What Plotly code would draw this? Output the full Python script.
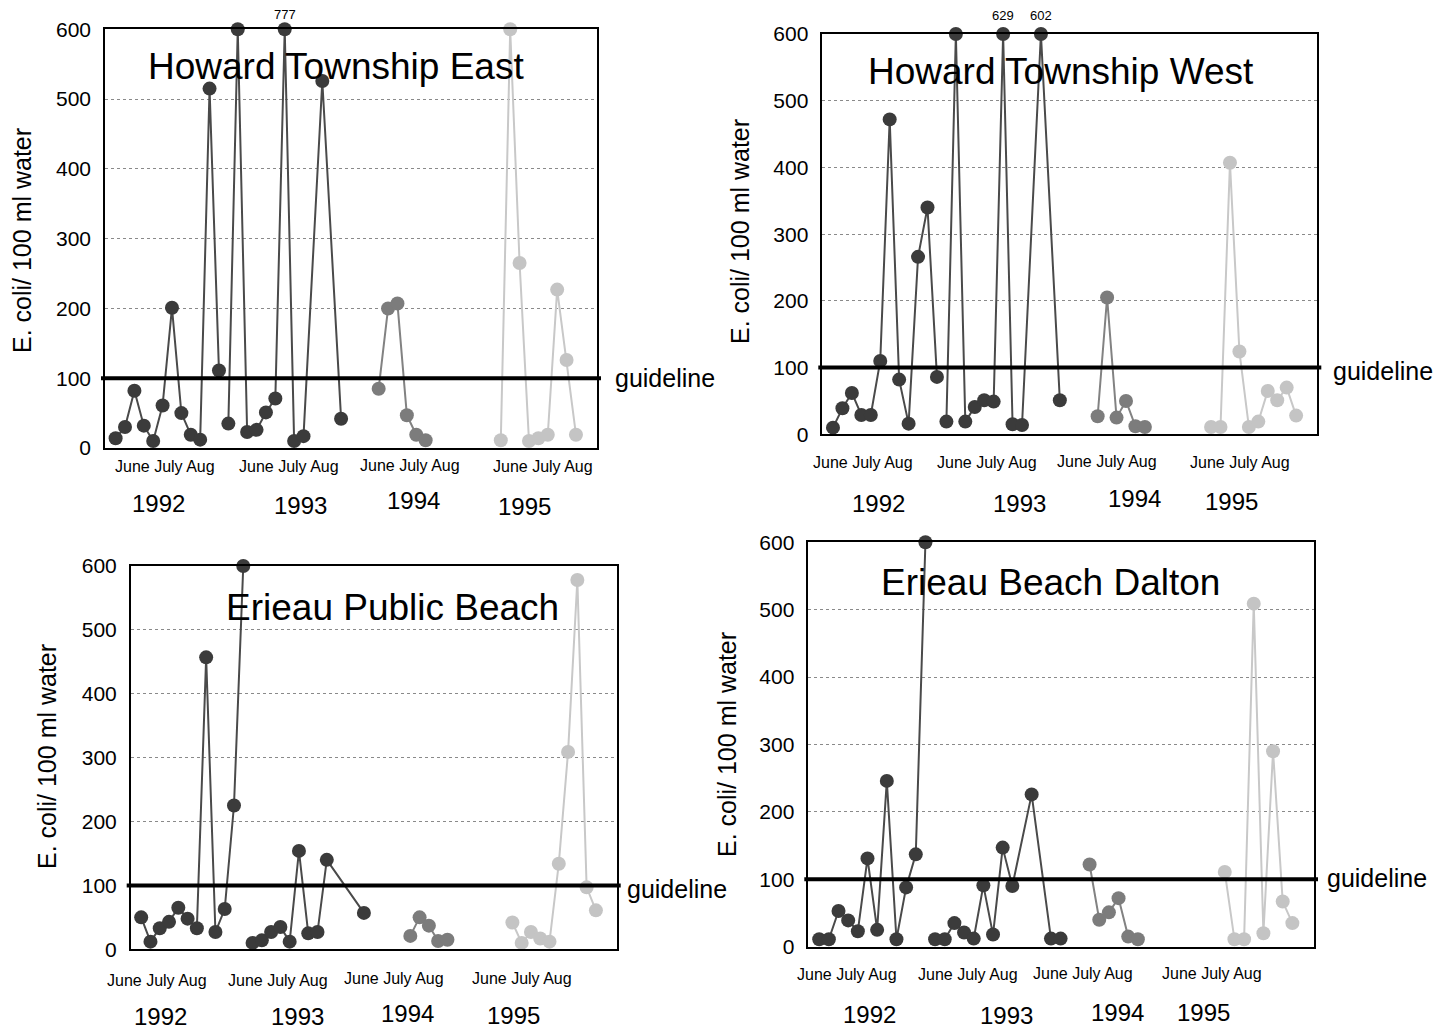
import plotly.graph_objects as go

FIG_W, FIG_H = 1436, 1031
FONT = "Liberation Sans, Arial, Helvetica, sans-serif"

Y_MAX = 600          # values above this are drawn at the top edge and labelled
GUIDELINE = 100      # E. coli guideline (per 100 ml)
Y_TICKS = [0, 100, 200, 300, 400, 500, 600]
X_RANGE = [-1.13, 51.24]   # sampling-slot axis

years = ["1992", "1993", "1994", "1995"]
months_label = "June July Aug"
y_title = "E. coli/ 100 ml water"
guide_label = "guideline"
site_names = ["Howard Township East", "Howard Township West",
              "Erieau Public Beach", "Erieau Beach Dalton"]

# ---- Howard Township East: sampling slot / E. coli count per season ----
hte_slots_1992 = [0, 1, 2, 3, 4, 5, 6, 7, 8, 9, 10, 11]
hte_vals_1992 = [14, 30, 82, 32, 10, 61, 201, 50, 19, 12, 515, 111]
hte_slots_1993 = [12, 13, 14, 15, 16, 17, 18, 19, 20, 22, 24]
hte_vals_1993 = [35, 600, 23, 26, 51, 71, 777, 10, 17, 526, 42]
hte_slots_1994 = [28, 29, 30, 31, 32, 33]
hte_vals_1994 = [85, 200, 207, 47, 19, 11]
hte_slots_1995 = [41, 42, 43, 44, 45, 46, 47, 48, 49]
hte_vals_1995 = [11, 600, 265, 10, 14, 19, 227, 126, 19]

# ---- Howard Township West ----
htw_slots_1992 = [0, 1, 2, 3, 4, 5, 6, 7, 8, 9, 10, 11]
htw_vals_1992 = [10, 39, 62, 29, 29, 110, 472, 82, 16, 266, 340, 86]
htw_slots_1993 = [12, 13, 14, 15, 16, 17, 18, 19, 20, 22, 24]
htw_vals_1993 = [19, 600, 19, 41, 51, 49, 629, 15, 14, 602, 51]
htw_slots_1994 = [28, 29, 30, 31, 32, 33]
htw_vals_1994 = [27, 205, 25, 50, 12, 11]
htw_slots_1995 = [40, 41, 42, 43, 44, 45, 46, 47, 48, 49]
htw_vals_1995 = [11, 11, 407, 124, 11, 19, 65, 51, 70, 28]

# ---- Erieau Public Beach ----
epb_slots_1992 = [0, 1, 2, 3, 4, 5, 6, 7, 8, 9, 10, 11]
epb_vals_1992 = [50, 12, 33, 43, 65, 48, 33, 457, 27, 63, 225, 600]
epb_slots_1993 = [12, 13, 14, 15, 16, 17, 18, 19, 20, 24]
epb_vals_1993 = [10, 14, 27, 35, 12, 154, 25, 27, 140, 57]
epb_slots_1994 = [29, 30, 31, 32, 33]
epb_vals_1994 = [21, 50, 37, 13, 15]
epb_slots_1995 = [40, 41, 42, 43, 44, 45, 46, 47, 48, 49]
epb_vals_1995 = [42, 10, 27, 17, 12, 134, 309, 578, 97, 61]

# ---- Erieau Beach Dalton ----
ebd_slots_1992 = [0, 1, 2, 3, 4, 5, 6, 7, 8, 9, 10, 11]
ebd_vals_1992 = [11, 11, 53, 39, 23, 131, 25, 246, 11, 88, 137, 600]
ebd_slots_1993 = [12, 13, 14, 15, 16, 17, 18, 19, 20, 22, 24, 25]
ebd_vals_1993 = [11, 11, 35, 21, 12, 91, 18, 147, 90, 226, 12, 12]
ebd_slots_1994 = [28, 29, 30, 31, 32, 33]
ebd_vals_1994 = [122, 40, 51, 72, 15, 11]
ebd_slots_1995 = [42, 43, 44, 45, 46, 47, 48, 49]
ebd_vals_1995 = [111, 11, 11, 509, 20, 290, 67, 35]

site_series = [
    [(hte_slots_1992, hte_vals_1992), (hte_slots_1993, hte_vals_1993),
     (hte_slots_1994, hte_vals_1994), (hte_slots_1995, hte_vals_1995)],
    [(htw_slots_1992, htw_vals_1992), (htw_slots_1993, htw_vals_1993),
     (htw_slots_1994, htw_vals_1994), (htw_slots_1995, htw_vals_1995)],
    [(epb_slots_1992, epb_vals_1992), (epb_slots_1993, epb_vals_1993),
     (epb_slots_1994, epb_vals_1994), (epb_slots_1995, epb_vals_1995)],
    [(ebd_slots_1992, ebd_vals_1992), (ebd_slots_1993, ebd_vals_1993),
     (ebd_slots_1994, ebd_vals_1994), (ebd_slots_1995, ebd_vals_1995)],
]

# marker / line colour per season
season_style = {
    "1992": dict(marker="#3b3b3b", line="#4a4a4a"),
    "1993": dict(marker="#3b3b3b", line="#4a4a4a"),
    "1994": dict(marker="#7c7c7c", line="#828282"),
    "1995": dict(marker="#c4c4c4", line="#c8c8c8"),
}

# page placement of each panel (pixels: left, top, right, bottom) and its texts
panels = [
    dict(box=(105, 29.3, 597, 448), title=(336, 67), guide=(613, 378), ytitle=(22, 241),
         over_shift=5,
         months=[(165, 466), (289, 466), (410, 465), (543, 466)],
         years=[(158, 503), (300, 505), (414, 500), (524, 506)]),
    dict(box=(822.3, 34, 1317.3, 434.3), title=(1061, 72), guide=(1331, 371), ytitle=(740, 232),
         over_shift=9,
         months=[(863, 463), (987, 463), (1107, 461), (1240, 463)],
         years=[(878, 503), (1019, 503), (1134, 498), (1231, 502)]),
    dict(box=(130.7, 566, 616.7, 949.3), title=(393, 607), guide=(625, 889), ytitle=(47, 757),
         over_shift=9,
         months=[(157, 980), (278, 980), (394, 978), (522, 978)],
         years=[(160, 1016), (297, 1016), (407, 1013), (513, 1015)]),
    dict(box=(808.3, 542.3, 1314, 946.7), title=(1050, 582), guide=(1325, 878), ytitle=(727, 745),
         over_shift=9,
         months=[(847, 974), (968, 974), (1083, 973), (1212, 973)],
         years=[(870, 1014), (1006, 1015), (1117, 1012), (1203, 1012)]),
]


def px(x, y):
    return x / FIG_W, 1 - y / FIG_H


fig = go.Figure()
annotations = []
shapes = []
layout_axes = {}

for i, (name, series, pl) in enumerate(zip(site_names, site_series, panels), start=1):
    sfx = "" if i == 1 else str(i)
    xa, ya = "x" + sfx, "y" + sfx
    left, top, right, bottom = pl["box"]

    layout_axes["xaxis" + sfx] = dict(
        domain=[left / FIG_W, right / FIG_W], range=X_RANGE, anchor=ya, automargin=False,
        showticklabels=False, ticks="", showgrid=False, zeroline=False,
        showline=True, mirror=True, linecolor="black", linewidth=1.5,
    )
    layout_axes["yaxis" + sfx] = dict(
        domain=[1 - bottom / FIG_H, 1 - top / FIG_H], range=[0, Y_MAX], anchor=xa,
        automargin=False, tickvals=Y_TICKS, ticks="", ticklabelstandoff=8,
        tickfont=dict(family=FONT, size=21, color="black"),
        showgrid=True, gridcolor="#8a8a8a", griddash="dot", gridwidth=1,
        zeroline=False, showline=True, mirror=True, linecolor="black", linewidth=1.5,
    )

    for yr, (slots, vals) in zip(years, series):
        st = season_style[yr]
        shown = [min(v, Y_MAX) for v in vals]
        fig.add_trace(go.Scatter(
            x=slots, y=shown, xaxis=xa, yaxis=ya, mode="lines+markers",
            line=dict(color=st["line"], width=2),
            marker=dict(color=st["marker"], size=14, line=dict(width=0)),
            cliponaxis=False, showlegend=False, name=f"{name} {yr}",
        ))
        # off-scale counts are pinned to the top and labelled with the true value
        for s, v in zip(slots, vals):
            if v > Y_MAX:
                annotations.append(dict(
                    x=s, y=Y_MAX, xref=xa, yref=ya, text=str(v), showarrow=False,
                    yanchor="bottom", yshift=pl["over_shift"],
                    font=dict(family=FONT, size=13, color="black"),
                ))

    # guideline across the panel, running slightly past the frame
    gy0 = 1 - bottom / FIG_H
    gy1 = 1 - top / FIG_H
    g_paper = gy0 + (gy1 - gy0) * GUIDELINE / Y_MAX
    shapes.append(dict(
        type="line", xref="paper", yref="paper",
        x0=(left - 4) / FIG_W, x1=(right + 4) / FIG_W, y0=g_paper, y1=g_paper,
        line=dict(color="black", width=4), layer="above",
    ))

    tx, ty = px(*pl["title"])
    annotations.append(dict(x=tx, y=ty, xref="paper", yref="paper", text=name,
                            showarrow=False, xanchor="center", yanchor="middle",
                            font=dict(family=FONT, size=37, color="black")))
    gx, gyy = px(*pl["guide"])
    annotations.append(dict(x=gx, y=gyy, xref="paper", yref="paper", text=guide_label,
                            showarrow=False, xanchor="left", yanchor="middle",
                            font=dict(family=FONT, size=25, color="black")))
    yx, yy = px(*pl["ytitle"])
    annotations.append(dict(x=yx, y=yy, xref="paper", yref="paper", text=y_title,
                            showarrow=False, xanchor="center", yanchor="middle", textangle=-90,
                            font=dict(family=FONT, size=25, color="black")))
    for yr, mpos, ypos in zip(years, pl["months"], pl["years"]):
        mx, my = px(*mpos)
        annotations.append(dict(x=mx, y=my, xref="paper", yref="paper", text=months_label,
                                showarrow=False, xanchor="center", yanchor="middle",
                                font=dict(family=FONT, size=16, color="black")))
        qx, qy = px(*ypos)
        annotations.append(dict(x=qx, y=qy, xref="paper", yref="paper", text=yr,
                                showarrow=False, xanchor="center", yanchor="middle",
                                font=dict(family=FONT, size=24, color="black")))

fig.update_layout(
    width=FIG_W, height=FIG_H, margin=dict(l=0, r=0, t=0, b=0, autoexpand=False),
    paper_bgcolor="white", plot_bgcolor="white", showlegend=False,
    font=dict(family=FONT, color="black"),
    annotations=annotations, shapes=shapes, **layout_axes,
)

fig.write_html("out.html")
